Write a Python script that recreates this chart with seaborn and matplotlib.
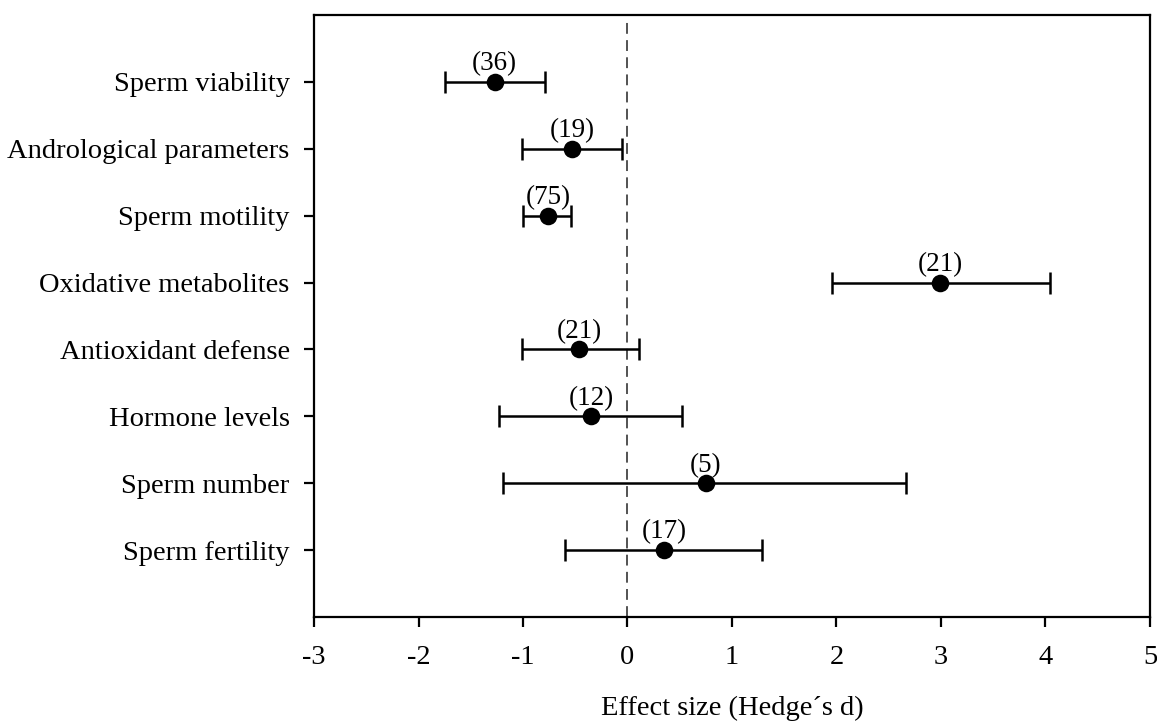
import matplotlib
matplotlib.use("Agg")
import matplotlib.pyplot as plt
import seaborn as sns
import pandas as pd

categories = ["Sperm viability", "Andrological parameters", "Sperm motility",
              "Oxidative metabolites", "Antioxidant defense", "Hormone levels",
              "Sperm number", "Sperm fertility"]
effect = [-1.27, -0.53, -0.76, 2.99, -0.46, -0.35, 0.75, 0.35]
ci_low = [-1.75, -1.01, -1.00, 1.96, -1.01, -1.23, -1.19, -0.60]
ci_high = [-0.79, -0.05, -0.54, 4.04, 0.11, 0.52, 2.67, 1.29]
n_studies = ["(36)", "(19)", "(75)", "(21)", "(21)", "(12)", "(5)", "(17)"]
xticks = [-3, -2, -1, 0, 1, 2, 3, 4, 5]

sns.set_theme(style="white")
plt.rcParams['font.family'] = ['Liberation Serif', 'DejaVu Serif']

df = pd.DataFrame({"cat": categories, "effect": effect, "lo": ci_low, "hi": ci_high,
                   "n": n_studies})
df["pos"] = range(len(df))

fig = plt.figure(figsize=(11.57, 7.22), dpi=100)
ax = fig.add_axes([0.2714, 0.1454, 0.9939 - 0.2714, 0.9792 - 0.1454])

ax.axvline(0, ymin=0, ymax=0.988, color="#444444", lw=1.3, ls=(0, (6, 3.5)), zorder=1)

ax.errorbar(df["effect"], df["pos"],
            xerr=[df["effect"] - df["lo"], df["hi"] - df["effect"]],
            fmt="none", ecolor="black", elinewidth=1.8, capsize=8, capthick=1.8, zorder=2)
sns.scatterplot(data=df, x="effect", y="pos", ax=ax, color="black", s=160,
                edgecolor="black", linewidth=0, zorder=3, legend=False)

for x, y, t in zip(df["effect"], df["pos"], df["n"]):
    ax.annotate(t, (x, y), xytext=(0, 4), textcoords="offset points",
                ha="center", va="bottom", fontsize=19.5, color="black")

ax.set_xlim(-3, 5)
ax.set_ylim(8, -1)
ax.set_xticks(xticks)
ax.set_xticklabels([str(v) for v in xticks])
ax.set_yticks(df["pos"])
ax.set_yticklabels(categories)
ax.tick_params(axis="both", which="both", direction="out", length=7.5, width=1.6,
               labelsize=20.5, colors="black", left=True, bottom=True, pad=13)
ax.tick_params(axis="y", pad=10)
ax.set_xlabel("Effect size (Hedge\u00b4s d)", fontsize=20.5, color="black", labelpad=18)
ax.set_ylabel("")
for s in ax.spines.values():
    s.set_visible(True)
    s.set_color("black")
    s.set_linewidth(1.6)

fig.savefig("out.png", dpi=100, facecolor="white")
